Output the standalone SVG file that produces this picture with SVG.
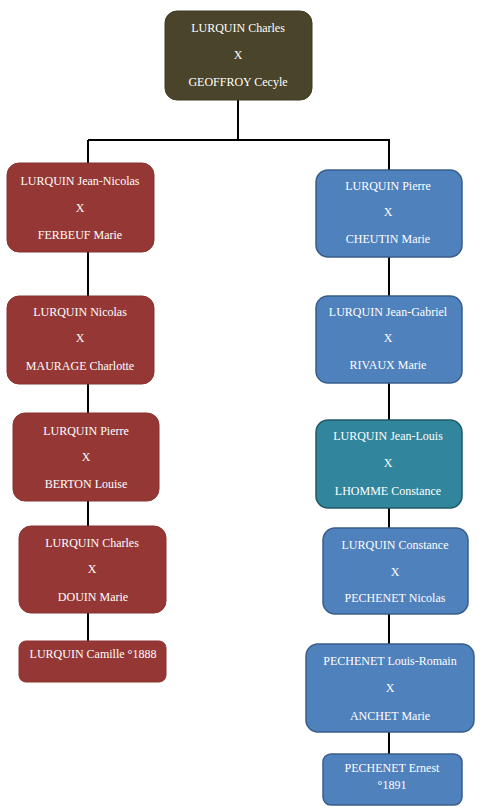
<svg xmlns="http://www.w3.org/2000/svg" width="483" height="812" viewBox="0 0 483 812">
<style>
text{font-family:"Liberation Serif","Times New Roman",serif;font-size:12px;fill:#ffffff;text-anchor:middle}
.olive{fill:#4a452a;stroke:#3d3922;stroke-width:1}
.red{fill:#953735;stroke:#8a3230;stroke-width:1}
.blue{fill:#4f81bd;stroke:#385d8a;stroke-width:1.5}
.teal{fill:#31859c;stroke:#215968;stroke-width:1.5}
.conn{stroke:#000;stroke-width:2;fill:none}
</style>
<rect width="483" height="812" fill="#ffffff"/>
<g id="connectors">
<path class="conn" d="M238 100V140M88 140H390M88 140V641M389 140V754"/>
</g>
<g id="n0"><rect class="olive" x="165" y="11" width="147" height="89" rx="12"/><text x="238" y="32">LURQUIN Charles</text><text x="238" y="59">X</text><text x="238" y="86">GEOFFROY Cecyle</text></g>
<g id="l1"><rect class="red" x="7" y="163" width="147" height="89" rx="12"/><text x="80" y="185">LURQUIN Jean-Nicolas</text><text x="80" y="212">X</text><text x="80" y="239">FERBEUF Marie</text></g>
<g id="l2"><rect class="red" x="7" y="296" width="147" height="88" rx="12"/><text x="80" y="316">LURQUIN Nicolas</text><text x="80" y="342">X</text><text x="80" y="370">MAURAGE Charlotte</text></g>
<g id="l3"><rect class="red" x="13" y="413" width="146" height="88" rx="12"/><text x="86" y="435">LURQUIN Pierre</text><text x="86" y="461">X</text><text x="86" y="488">BERTON Louise</text></g>
<g id="l4"><rect class="red" x="19" y="526" width="147" height="87" rx="12"/><text x="92" y="547">LURQUIN Charles</text><text x="92" y="573">X</text><text x="93" y="601">DOUIN Marie</text></g>
<g id="l5"><rect class="red" x="19" y="641" width="147" height="41" rx="7"/><text x="93" y="658">LURQUIN Camille °1888</text></g>
<g id="r1"><rect class="blue" x="316" y="170" width="146" height="87" rx="12"/><text x="388" y="190">LURQUIN Pierre</text><text x="388" y="216">X</text><text x="388" y="243">CHEUTIN Marie</text></g>
<g id="r2"><rect class="blue" x="316" y="296" width="146" height="87" rx="12"/><text x="388" y="316">LURQUIN Jean-Gabriel</text><text x="388" y="342">X</text><text x="388" y="369">RIVAUX Marie</text></g>
<g id="r3"><rect class="teal" x="316" y="420" width="146" height="88" rx="12"/><text x="388" y="440">LURQUIN Jean-Louis</text><text x="388" y="467">X</text><text x="388" y="495">LHOMME Constance</text></g>
<g id="r4"><rect class="blue" x="323" y="528" width="145" height="86" rx="12"/><text x="395" y="549">LURQUIN Constance</text><text x="395" y="576">X</text><text x="395" y="602">PECHENET Nicolas</text></g>
<g id="r5"><rect class="blue" x="306" y="644" width="168" height="88" rx="12"/><text x="390" y="665">PECHENET Louis-Romain</text><text x="390" y="692">X</text><text x="390" y="720">ANCHET Marie</text></g>
<g id="r6"><rect class="blue" x="323" y="754" width="139" height="51" rx="8"/><text x="392" y="772">PECHENET Ernest</text><text x="392" y="789">°1891</text></g>
</svg>
